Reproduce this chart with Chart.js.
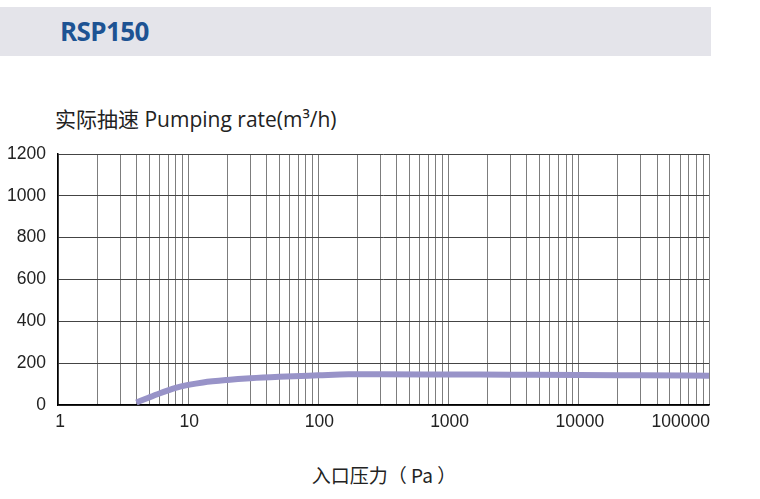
<!DOCTYPE html>
<html>
<head>
<meta charset="utf-8">
<script src="https://cdn.jsdelivr.net/npm/chart.js@4/dist/chart.umd.min.js"></script>
<style>
  html, body { margin: 0; padding: 0; background: #fff; }
  #wrap { position: relative; width: 760px; height: 499px; overflow: hidden; }
  #band { position: absolute; left: 0; top: 7px; width: 711px; height: 49px; background: #e4e4ea; }
  #band span { position: absolute; left: 60px; top: 50%; transform: translateY(-52%);
    font-family: "Open Sans", "Noto Sans", sans-serif; font-weight: 700; font-size: 26px; color: #1d5393; letter-spacing: -0.6px; }
  #ytitle { position: absolute; left: 55px; top: 103px; font-family: "Open Sans", "Noto Sans CJK SC", sans-serif;
    font-size: 21px; color: #222; white-space: nowrap; }
  #xtitle { position: absolute; left: 384px; top: 461px; transform: translateX(-50%); font-family: "Noto Sans CJK SC", "Open Sans", sans-serif;
    font-size: 19px; color: #222; white-space: nowrap; }
  #cv { position: absolute; left: 0; top: 0; width: 760px; height: 499px; }
</style>
</head>
<body>
<div id="wrap">
  <div id="band"><span>RSP150</span></div>
  <div id="ytitle">实际抽速 Pumping rate(m³/h)</div>
  <div id="xtitle">入口压力（ Pa ）</div>
  <div id="cv"><canvas id="chart" width="760" height="499"></canvas></div>
</div>
<script>
// ---- data ----
const pressurePa = [4, 5, 6, 7, 8, 10, 13, 20, 30, 50, 100, 170, 300, 1000, 3000, 10000, 30000, 100000];
const pumpingRate = [12, 36, 55, 70, 82, 96, 108, 120, 128, 135, 142, 147, 147, 146, 145, 144, 142, 140];
const xTickLabels = [1, 10, 100, 1000, 10000, 100000];
const yTickLabels = [0, 200, 400, 600, 800, 1000, 1200];
const yGridStep = 100;

const points = pressurePa.map((p, i) => ({ x: p, y: pumpingRate[i] }));

// grid positions 1..9 x each decade
const xGridValues = [];
xTickLabels.forEach((d, i) => {
  if (i === xTickLabels.length - 1) { xGridValues.push(d); return; }
  for (let k = 1; k < 10; k++) xGridValues.push(d * k);
});

const xLabelPlugin = {
  id: 'xLabels',
  afterDraw(chart) {
    const ctx = chart.ctx;
    const sx = chart.scales.x;
    const area = chart.chartArea;
    ctx.save();
    ctx.font = '17.5px "Liberation Sans", Arial, sans-serif';
    ctx.fillStyle = '#222';
    ctx.textBaseline = 'middle';
    xTickLabels.forEach((v, i) => {
      const px = sx.getPixelForValue(v);
      ctx.textAlign = (i === xTickLabels.length - 1) ? 'right' : 'center';
      ctx.fillText(String(v), i === 0 ? px + 2 : px + 1, area.bottom + 17);
    });
    ctx.restore();
  }
};

new Chart(document.getElementById('chart'), {
  type: 'line',
  data: {
    datasets: [{
      data: points,
      borderColor: '#9893c8',
      borderWidth: 6,
      pointRadius: 0,
      fill: false,
      cubicInterpolationMode: 'monotone'
    }]
  },
  options: {
    responsive: false,
    animation: false,
    layout: { padding: { top: 154, right: 51, left: 0, bottom: 0 } },
    plugins: { legend: { display: false }, tooltip: { enabled: false }, title: { display: false } },
    scales: {
      x: {
        type: 'logarithmic',
        min: 1,
        max: 100000,
        position: 'bottom',
        afterBuildTicks(scale) { scale.ticks = xGridValues.map(v => ({ value: v, major: false })); },
        afterFit(scale) { scale.height = 94; },
        ticks: { display: false },
        grid: { color: '#7d7d7d', lineWidth: 1, drawTicks: false },
        border: { color: '#000', width: 1.5 }
      },
      y: {
        min: 0,
        max: 1200,
        afterBuildTicks(scale) {
          const t = [];
          for (let v = yTickLabels[0]; v <= yTickLabels[yTickLabels.length - 1]; v += yGridStep) t.push({ value: v });
          scale.ticks = t;
        },
        afterFit(scale) { scale.width = 58; },
        ticks: {
          padding: 12,
          color: '#222',
          font: { family: '"Liberation Sans", Arial, sans-serif', size: 17.5 },
          callback: (v) => yTickLabels.includes(v) ? String(v) : ''
        },
        grid: { color: '#444', lineWidth: 1, drawTicks: false },
        border: { color: '#000', width: 1.5 }
      }
    }
  },
  plugins: [xLabelPlugin]
});
</script>
</body>
</html>
